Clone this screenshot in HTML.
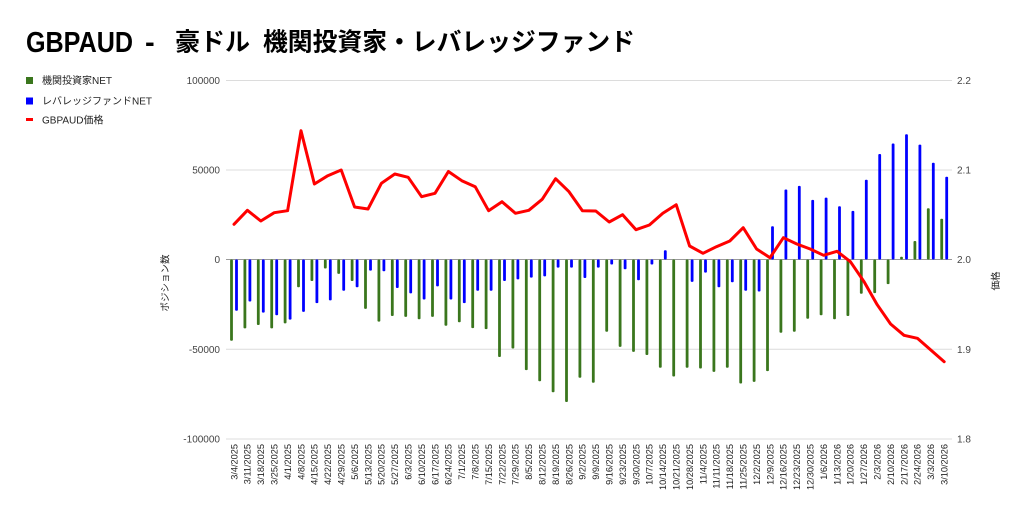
<!DOCTYPE html>
<html><head><meta charset="utf-8"><style>
html,body{margin:0;padding:0;background:#fff;}
svg{display:block;}
text{font-family:"Liberation Sans","Noto Sans CJK JP",sans-serif;}
.g{fill:#3a761d;}
.b{fill:#0000ff;}
.xl text{font-size:9.2px;fill:#222;text-anchor:end;}
.ax{font-size:10px;fill:#444;}
</style></head><body>
<svg width="1024" height="518" viewBox="0 0 1024 518" xmlns="http://www.w3.org/2000/svg">
<rect width="1024" height="518" fill="#fff"/>
<!-- title -->
<text x="26" y="52" font-size="29" font-weight="bold" fill="#000" textLength="107" lengthAdjust="spacingAndGlyphs">GBPAUD</text>
<text x="145" y="52" font-size="29" font-weight="bold" fill="#000">-</text>
<text x="175" y="50.5" font-size="25" font-weight="bold" fill="#000" style="font-family:'Noto Sans CJK JP',sans-serif" textLength="75" lengthAdjust="spacingAndGlyphs">豪ドル</text>
<text x="263" y="50.5" font-size="25" font-weight="bold" fill="#000" style="font-family:'Noto Sans CJK JP',sans-serif" textLength="372" lengthAdjust="spacingAndGlyphs">機関投資家・レバレッジファンド</text>
<!-- legend -->
<rect x="26" y="77" width="7" height="7" class="g"/>
<text x="42" y="84" font-size="10" fill="#222">機関投資家NET</text>
<rect x="26" y="97.5" width="7" height="7" class="b"/>
<text x="42" y="104.5" font-size="10" fill="#222">レバレッジファンドNET</text>
<rect x="26" y="118" width="7" height="3" fill="#ff0000"/>
<text x="42" y="123.5" font-size="10" fill="#222">GBPAUD価格</text>
<!-- gridlines -->
<g stroke="#dcdcdc" stroke-width="1">
<line x1="226" y1="80.5" x2="952" y2="80.5"/>
<line x1="226" y1="170" x2="952" y2="170"/>
<line x1="226" y1="349.3" x2="952" y2="349.3"/>
<line x1="226" y1="439" x2="952" y2="439"/>
</g>
<line x1="226" y1="259.5" x2="952" y2="259.5" stroke="#9a9a9a" stroke-width="1"/>
<!-- left axis labels -->
<g class="ax" text-anchor="end">
<text x="220" y="84">100000</text>
<text x="220" y="173.5">50000</text>
<text x="220" y="263">0</text>
<text x="220" y="352.8">-50000</text>
<text x="220" y="442.5">-100000</text>
</g>
<g class="ax" text-anchor="start">
<text x="957" y="84">2.2</text>
<text x="957" y="173.5">2.1</text>
<text x="957" y="263">2.0</text>
<text x="957" y="352.8">1.9</text>
<text x="957" y="442.5">1.8</text>
</g>
<text transform="translate(168.5,283) rotate(-90)" font-size="9.5" fill="#222" text-anchor="middle">ポジション数</text>
<text transform="translate(999,281) rotate(-90)" font-size="9.5" fill="#222" text-anchor="middle">価格</text>
<!-- bars & labels -->
<g class="xl">
<g transform="translate(234,0)"><rect class="g" x="-3.9" y="259.5" width="2.8" height="81.3" rx="1"/><rect class="b" x="1.1" y="259.5" width="2.8" height="51.2" rx="1"/><text transform="translate(3.3,444) rotate(-90)">3/4/2025</text></g>
<g transform="translate(247.4,0)"><rect class="g" x="-3.9" y="259.5" width="2.8" height="68.9" rx="1"/><rect class="b" x="1.1" y="259.5" width="2.8" height="42" rx="1"/><text transform="translate(3.3,444) rotate(-90)">3/11/2025</text></g>
<g transform="translate(260.8,0)"><rect class="g" x="-3.9" y="259.5" width="2.8" height="65.5" rx="1"/><rect class="b" x="1.1" y="259.5" width="2.8" height="53.1" rx="1"/><text transform="translate(3.3,444) rotate(-90)">3/18/2025</text></g>
<g transform="translate(274.2,0)"><rect class="g" x="-3.9" y="259.5" width="2.8" height="68.9" rx="1"/><rect class="b" x="1.1" y="259.5" width="2.8" height="55.8" rx="1"/><text transform="translate(3.3,444) rotate(-90)">3/25/2025</text></g>
<g transform="translate(287.6,0)"><rect class="g" x="-3.9" y="259.5" width="2.8" height="63.9" rx="1"/><rect class="b" x="1.1" y="259.5" width="2.8" height="60.1" rx="1"/><text transform="translate(3.3,444) rotate(-90)">4/1/2025</text></g>
<g transform="translate(301,0)"><rect class="g" x="-3.9" y="259.5" width="2.8" height="27.8" rx="1"/><rect class="b" x="1.1" y="259.5" width="2.8" height="52.4" rx="1"/><text transform="translate(3.3,444) rotate(-90)">4/8/2025</text></g>
<g transform="translate(314.4,0)"><rect class="g" x="-3.9" y="259.5" width="2.8" height="21.5" rx="1"/><rect class="b" x="1.1" y="259.5" width="2.8" height="43.6" rx="1"/><text transform="translate(3.3,444) rotate(-90)">4/15/2025</text></g>
<g transform="translate(327.8,0)"><rect class="g" x="-3.9" y="259.5" width="2.8" height="9" rx="1"/><rect class="b" x="1.1" y="259.5" width="2.8" height="40.9" rx="1"/><text transform="translate(3.3,444) rotate(-90)">4/22/2025</text></g>
<g transform="translate(341.2,0)"><rect class="g" x="-3.9" y="259.5" width="2.8" height="14.4" rx="1"/><rect class="b" x="1.1" y="259.5" width="2.8" height="31.2" rx="1"/><text transform="translate(3.3,444) rotate(-90)">4/29/2025</text></g>
<g transform="translate(354.6,0)"><rect class="g" x="-3.9" y="259.5" width="2.8" height="21.5" rx="1"/><rect class="b" x="1.1" y="259.5" width="2.8" height="27.8" rx="1"/><text transform="translate(3.3,444) rotate(-90)">5/6/2025</text></g>
<g transform="translate(368,0)"><rect class="g" x="-3.9" y="259.5" width="2.8" height="49.4" rx="1"/><rect class="b" x="1.1" y="259.5" width="2.8" height="11.1" rx="1"/><text transform="translate(3.3,444) rotate(-90)">5/13/2025</text></g>
<g transform="translate(381.4,0)"><rect class="g" x="-3.9" y="259.5" width="2.8" height="62.1" rx="1"/><rect class="b" x="1.1" y="259.5" width="2.8" height="11.8" rx="1"/><text transform="translate(3.3,444) rotate(-90)">5/20/2025</text></g>
<g transform="translate(394.8,0)"><rect class="g" x="-3.9" y="259.5" width="2.8" height="56.5" rx="1"/><rect class="b" x="1.1" y="259.5" width="2.8" height="28.5" rx="1"/><text transform="translate(3.3,444) rotate(-90)">5/27/2025</text></g>
<g transform="translate(408.2,0)"><rect class="g" x="-3.9" y="259.5" width="2.8" height="57.4" rx="1"/><rect class="b" x="1.1" y="259.5" width="2.8" height="33.9" rx="1"/><text transform="translate(3.3,444) rotate(-90)">6/3/2025</text></g>
<g transform="translate(421.6,0)"><rect class="g" x="-3.9" y="259.5" width="2.8" height="59.8" rx="1"/><rect class="b" x="1.1" y="259.5" width="2.8" height="40" rx="1"/><text transform="translate(3.3,444) rotate(-90)">6/10/2025</text></g>
<g transform="translate(435,0)"><rect class="g" x="-3.9" y="259.5" width="2.8" height="57.4" rx="1"/><rect class="b" x="1.1" y="259.5" width="2.8" height="26.9" rx="1"/><text transform="translate(3.3,444) rotate(-90)">6/17/2025</text></g>
<g transform="translate(448.4,0)"><rect class="g" x="-3.9" y="259.5" width="2.8" height="66.2" rx="1"/><rect class="b" x="1.1" y="259.5" width="2.8" height="40" rx="1"/><text transform="translate(3.3,444) rotate(-90)">6/24/2025</text></g>
<g transform="translate(461.8,0)"><rect class="g" x="-3.9" y="259.5" width="2.8" height="62.8" rx="1"/><rect class="b" x="1.1" y="259.5" width="2.8" height="43.6" rx="1"/><text transform="translate(3.3,444) rotate(-90)">7/1/2025</text></g>
<g transform="translate(475.2,0)"><rect class="g" x="-3.9" y="259.5" width="2.8" height="68.6" rx="1"/><rect class="b" x="1.1" y="259.5" width="2.8" height="31.2" rx="1"/><text transform="translate(3.3,444) rotate(-90)">7/8/2025</text></g>
<g transform="translate(488.6,0)"><rect class="g" x="-3.9" y="259.5" width="2.8" height="69.6" rx="1"/><rect class="b" x="1.1" y="259.5" width="2.8" height="31.2" rx="1"/><text transform="translate(3.3,444) rotate(-90)">7/15/2025</text></g>
<g transform="translate(502,0)"><rect class="g" x="-3.9" y="259.5" width="2.8" height="97.5" rx="1"/><rect class="b" x="1.1" y="259.5" width="2.8" height="21.5" rx="1"/><text transform="translate(3.3,444) rotate(-90)">7/22/2025</text></g>
<g transform="translate(515.4,0)"><rect class="g" x="-3.9" y="259.5" width="2.8" height="89" rx="1"/><rect class="b" x="1.1" y="259.5" width="2.8" height="19.9" rx="1"/><text transform="translate(3.3,444) rotate(-90)">7/29/2025</text></g>
<g transform="translate(528.8,0)"><rect class="g" x="-3.9" y="259.5" width="2.8" height="110.6" rx="1"/><rect class="b" x="1.1" y="259.5" width="2.8" height="18.1" rx="1"/><text transform="translate(3.3,444) rotate(-90)">8/5/2025</text></g>
<g transform="translate(542.2,0)"><rect class="g" x="-3.9" y="259.5" width="2.8" height="121.7" rx="1"/><rect class="b" x="1.1" y="259.5" width="2.8" height="16.9" rx="1"/><text transform="translate(3.3,444) rotate(-90)">8/12/2025</text></g>
<g transform="translate(555.6,0)"><rect class="g" x="-3.9" y="259.5" width="2.8" height="132.8" rx="1"/><rect class="b" x="1.1" y="259.5" width="2.8" height="8.1" rx="1"/><text transform="translate(3.3,444) rotate(-90)">8/19/2025</text></g>
<g transform="translate(569,0)"><rect class="g" x="-3.9" y="259.5" width="2.8" height="142.5" rx="1"/><rect class="b" x="1.1" y="259.5" width="2.8" height="8.1" rx="1"/><text transform="translate(3.3,444) rotate(-90)">8/26/2025</text></g>
<g transform="translate(582.4,0)"><rect class="g" x="-3.9" y="259.5" width="2.8" height="118.3" rx="1"/><rect class="b" x="1.1" y="259.5" width="2.8" height="18.5" rx="1"/><text transform="translate(3.3,444) rotate(-90)">9/2/2025</text></g>
<g transform="translate(595.8,0)"><rect class="g" x="-3.9" y="259.5" width="2.8" height="123.3" rx="1"/><rect class="b" x="1.1" y="259.5" width="2.8" height="8.1" rx="1"/><text transform="translate(3.3,444) rotate(-90)">9/9/2025</text></g>
<g transform="translate(609.2,0)"><rect class="g" x="-3.9" y="259.5" width="2.8" height="72.3" rx="1"/><rect class="b" x="1.1" y="259.5" width="2.8" height="5" rx="1"/><text transform="translate(3.3,444) rotate(-90)">9/16/2025</text></g>
<g transform="translate(622.6,0)"><rect class="g" x="-3.9" y="259.5" width="2.8" height="87.4" rx="1"/><rect class="b" x="1.1" y="259.5" width="2.8" height="9.7" rx="1"/><text transform="translate(3.3,444) rotate(-90)">9/23/2025</text></g>
<g transform="translate(636,0)"><rect class="g" x="-3.9" y="259.5" width="2.8" height="92.4" rx="1"/><rect class="b" x="1.1" y="259.5" width="2.8" height="20.8" rx="1"/><text transform="translate(3.3,444) rotate(-90)">9/30/2025</text></g>
<g transform="translate(649.4,0)"><rect class="g" x="-3.9" y="259.5" width="2.8" height="95.5" rx="1"/><rect class="b" x="1.1" y="259.5" width="2.8" height="5" rx="1"/><text transform="translate(3.3,444) rotate(-90)">10/7/2025</text></g>
<g transform="translate(662.8,0)"><rect class="g" x="-3.9" y="259.5" width="2.8" height="108.2" rx="1"/><rect class="b" x="1.1" y="250.2" width="2.8" height="9.3" rx="1"/><text transform="translate(3.3,444) rotate(-90)">10/14/2025</text></g>
<g transform="translate(676.2,0)"><rect class="g" x="-3.9" y="259.5" width="2.8" height="117" rx="1"/><text transform="translate(3.3,444) rotate(-90)">10/21/2025</text></g>
<g transform="translate(689.6,0)"><rect class="g" x="-3.9" y="259.5" width="2.8" height="108.2" rx="1"/><rect class="b" x="1.1" y="259.5" width="2.8" height="22.4" rx="1"/><text transform="translate(3.3,444) rotate(-90)">10/28/2025</text></g>
<g transform="translate(703,0)"><rect class="g" x="-3.9" y="259.5" width="2.8" height="109" rx="1"/><rect class="b" x="1.1" y="259.5" width="2.8" height="13.1" rx="1"/><text transform="translate(3.3,444) rotate(-90)">11/4/2025</text></g>
<g transform="translate(716.4,0)"><rect class="g" x="-3.9" y="259.5" width="2.8" height="112.4" rx="1"/><rect class="b" x="1.1" y="259.5" width="2.8" height="27.8" rx="1"/><text transform="translate(3.3,444) rotate(-90)">11/11/2025</text></g>
<g transform="translate(729.8,0)"><rect class="g" x="-3.9" y="259.5" width="2.8" height="108.2" rx="1"/><rect class="b" x="1.1" y="259.5" width="2.8" height="22.8" rx="1"/><text transform="translate(3.3,444) rotate(-90)">11/18/2025</text></g>
<g transform="translate(743.2,0)"><rect class="g" x="-3.9" y="259.5" width="2.8" height="124" rx="1"/><rect class="b" x="1.1" y="259.5" width="2.8" height="31.2" rx="1"/><text transform="translate(3.3,444) rotate(-90)">11/25/2025</text></g>
<g transform="translate(756.6,0)"><rect class="g" x="-3.9" y="259.5" width="2.8" height="122.4" rx="1"/><rect class="b" x="1.1" y="259.5" width="2.8" height="32" rx="1"/><text transform="translate(3.3,444) rotate(-90)">12/2/2025</text></g>
<g transform="translate(770,0)"><rect class="g" x="-3.9" y="259.5" width="2.8" height="111.6" rx="1"/><rect class="b" x="1.1" y="226.3" width="2.8" height="33.2" rx="1"/><text transform="translate(3.3,444) rotate(-90)">12/9/2025</text></g>
<g transform="translate(783.4,0)"><rect class="g" x="-3.9" y="259.5" width="2.8" height="73.2" rx="1"/><rect class="b" x="1.1" y="189.5" width="2.8" height="70" rx="1"/><text transform="translate(3.3,444) rotate(-90)">12/16/2025</text></g>
<g transform="translate(796.8,0)"><rect class="g" x="-3.9" y="259.5" width="2.8" height="72.3" rx="1"/><rect class="b" x="1.1" y="185.9" width="2.8" height="73.6" rx="1"/><text transform="translate(3.3,444) rotate(-90)">12/23/2025</text></g>
<g transform="translate(810.2,0)"><rect class="g" x="-3.9" y="259.5" width="2.8" height="59.2" rx="1"/><rect class="b" x="1.1" y="199.9" width="2.8" height="59.6" rx="1"/><text transform="translate(3.3,444) rotate(-90)">12/30/2025</text></g>
<g transform="translate(823.6,0)"><rect class="g" x="-3.9" y="259.5" width="2.8" height="55.8" rx="1"/><rect class="b" x="1.1" y="197.6" width="2.8" height="61.9" rx="1"/><text transform="translate(3.3,444) rotate(-90)">1/6/2026</text></g>
<g transform="translate(837,0)"><rect class="g" x="-3.9" y="259.5" width="2.8" height="59.8" rx="1"/><rect class="b" x="1.1" y="206.2" width="2.8" height="53.3" rx="1"/><text transform="translate(3.3,444) rotate(-90)">1/13/2026</text></g>
<g transform="translate(850.4,0)"><rect class="g" x="-3.9" y="259.5" width="2.8" height="56.5" rx="1"/><rect class="b" x="1.1" y="210.9" width="2.8" height="48.6" rx="1"/><text transform="translate(3.3,444) rotate(-90)">1/20/2026</text></g>
<g transform="translate(863.8,0)"><rect class="g" x="-3.9" y="259.5" width="2.8" height="34.3" rx="1"/><rect class="b" x="1.1" y="179.8" width="2.8" height="79.7" rx="1"/><text transform="translate(3.3,444) rotate(-90)">1/27/2026</text></g>
<g transform="translate(877.2,0)"><rect class="g" x="-3.9" y="259.5" width="2.8" height="33.6" rx="1"/><rect class="b" x="1.1" y="154" width="2.8" height="105.5" rx="1"/><text transform="translate(3.3,444) rotate(-90)">2/3/2026</text></g>
<g transform="translate(890.6,0)"><rect class="g" x="-3.9" y="259.5" width="2.8" height="24.6" rx="1"/><rect class="b" x="1.1" y="143.5" width="2.8" height="116" rx="1"/><text transform="translate(3.3,444) rotate(-90)">2/10/2026</text></g>
<g transform="translate(904,0)"><rect class="g" x="-3.9" y="256.8" width="2.8" height="2.7" rx="1"/><rect class="b" x="1.1" y="134.2" width="2.8" height="125.3" rx="1"/><text transform="translate(3.3,444) rotate(-90)">2/17/2026</text></g>
<g transform="translate(917.4,0)"><rect class="g" x="-3.9" y="241" width="2.8" height="18.5" rx="1"/><rect class="b" x="1.1" y="144.6" width="2.8" height="114.9" rx="1"/><text transform="translate(3.3,444) rotate(-90)">2/24/2026</text></g>
<g transform="translate(930.8,0)"><rect class="g" x="-3.9" y="208.3" width="2.8" height="51.2" rx="1"/><rect class="b" x="1.1" y="162.7" width="2.8" height="96.8" rx="1"/><text transform="translate(3.3,444) rotate(-90)">3/3/2026</text></g>
<g transform="translate(944.2,0)"><rect class="g" x="-3.9" y="218.8" width="2.8" height="40.7" rx="1"/><rect class="b" x="1.1" y="176.8" width="2.8" height="82.7" rx="1"/><text transform="translate(3.3,444) rotate(-90)">3/10/2026</text></g>
</g>
<!-- price line -->
<polyline fill="none" stroke="#ff0000" stroke-width="3" stroke-linejoin="round" stroke-linecap="round" points="234,224.3 247.4,210.3 260.8,221 274.2,212.7 287.6,210.7 301,130.7 314.4,184 327.8,175.7 341.2,170 354.6,207 368,209 381.4,183.3 394.8,174 408.2,177.3 421.6,196.7 435,193.3 448.4,171.5 461.8,180.7 475.2,186.7 488.6,210.7 502,201.7 515.4,213.3 528.8,210.3 542.2,199.3 555.6,178.7 569,191.7 582.4,210.7 595.8,211 609.2,222 622.6,214.7 636,229.7 649.4,225 662.8,213.3 676.2,204.7 689.6,246 703,253.3 716.4,246.7 729.8,241 743.2,227.7 756.6,249 770,257.7 783.4,237.7 796.8,244 810.2,249 823.6,255.3 837,251.3 850.4,261.7 863.8,281.3 877.2,304.7 890.6,324 904,335.3 917.4,338.3 930.8,350 944.2,361.7"/>
</svg>
</body></html>
